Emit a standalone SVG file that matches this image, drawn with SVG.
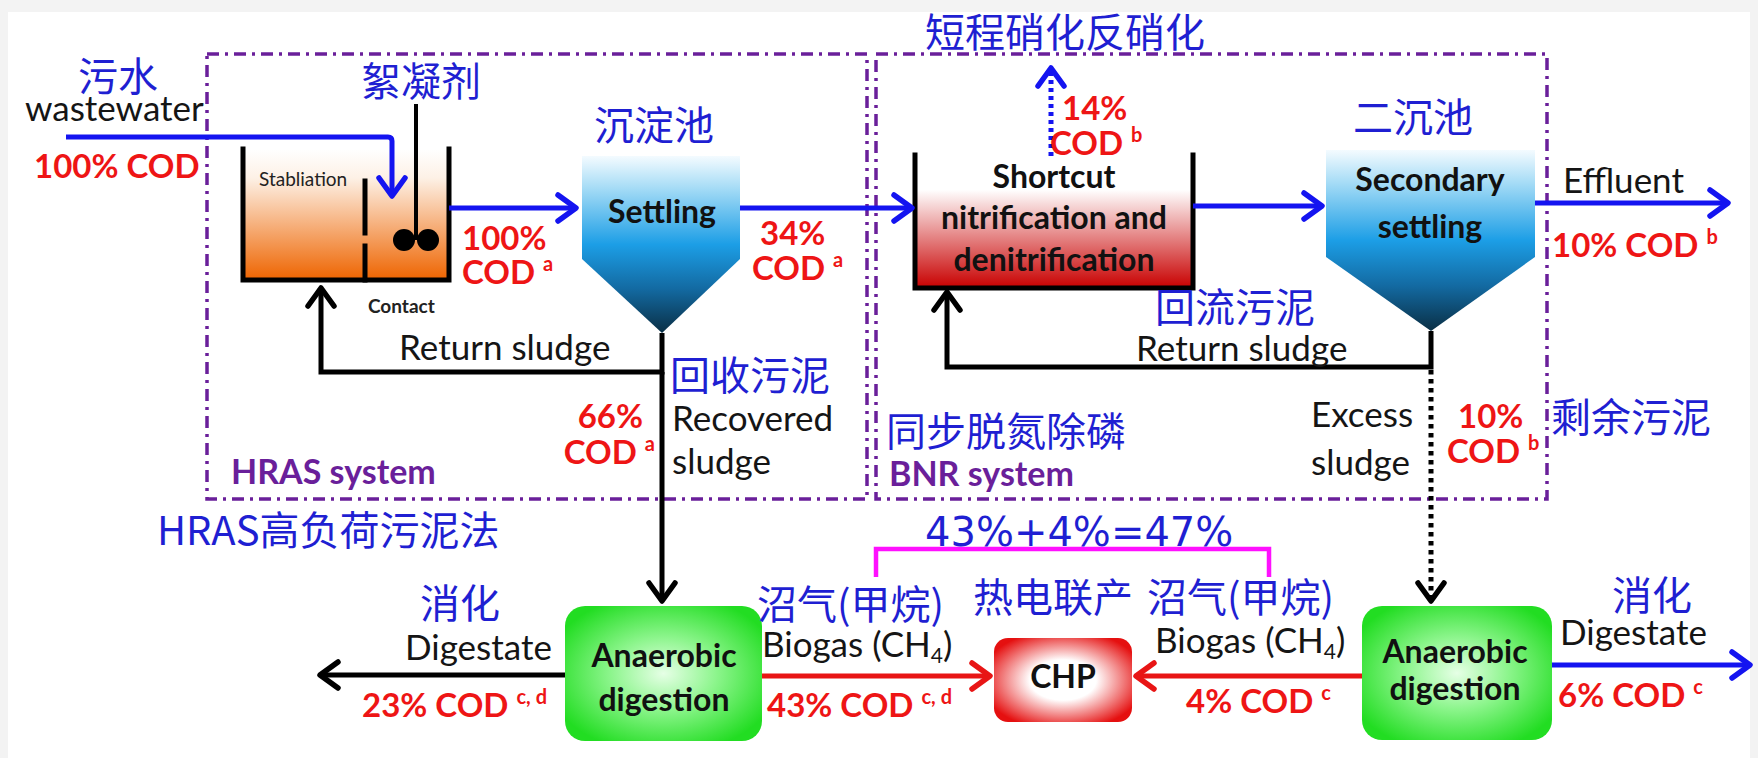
<svg xmlns="http://www.w3.org/2000/svg" width="1758" height="758" viewBox="0 0 1758 758">
  <defs>
    <style>
      .cn { font-family: "Noto Sans CJK SC", sans-serif; font-size: 40px; fill: #1f1fd2; }
      .en { font-family: Lato, "Liberation Sans", sans-serif; font-size: 35px; fill: #151515; }
      .cod { font-family: Lato, "Liberation Sans", sans-serif; font-size: 33px; font-weight: bold; fill: #ee1515; }
      .node { font-family: Lato, "Liberation Sans", sans-serif; font-size: 32px; font-weight: bold; fill: #111; text-anchor: middle; }
      .small { font-family: Lato, "Liberation Sans", sans-serif; font-size: 19px; fill: #222; }
      .sys { font-family: Lato, "Liberation Sans", sans-serif; font-size: 34px; font-weight: bold; fill: #6a1f9a; }
      .sum { font-family: "DejaVu Sans", sans-serif; font-size: 40px; fill: #1f1fd2; }
      .sup { font-size: 20px; }
      .frame { fill: none; stroke: #6a1f9a; stroke-width: 3.5; stroke-dasharray: 12 6 3 6; }
      .wall { fill: none; stroke: #000; stroke-width: 5; stroke-linecap: square; }
      .flow-blue { fill: none; stroke: #1414f0; stroke-width: 5; }
      .flow-black { fill: none; stroke: #000; stroke-width: 5; }
      .flow-red { fill: none; stroke: #e81515; stroke-width: 5; }
    </style>
    <marker id="ah-blue" viewBox="0 0 26 32" refX="22" refY="16" markerWidth="26" markerHeight="32" markerUnits="userSpaceOnUse" orient="auto">
      <path d="M4,3 L22,16 L4,29" fill="none" stroke="#1414f0" stroke-width="5.5" stroke-linecap="round" stroke-linejoin="round"/>
    </marker>
    <marker id="ah-black" viewBox="0 0 26 32" refX="22" refY="16" markerWidth="26" markerHeight="32" markerUnits="userSpaceOnUse" orient="auto">
      <path d="M4,3 L22,16 L4,29" fill="none" stroke="#000" stroke-width="5.5" stroke-linecap="round" stroke-linejoin="round"/>
    </marker>
    <marker id="ah-red" viewBox="0 0 26 32" refX="22" refY="16" markerWidth="26" markerHeight="32" markerUnits="userSpaceOnUse" orient="auto">
      <path d="M4,3 L22,16 L4,29" fill="none" stroke="#e81515" stroke-width="5.5" stroke-linecap="round" stroke-linejoin="round"/>
    </marker>
    <linearGradient id="g-orange" x1="0" y1="0" x2="0" y2="1">
      <stop offset="0" stop-color="#ffffff"/>
      <stop offset="0.22" stop-color="#fdf1e6"/>
      <stop offset="1" stop-color="#ee6400"/>
    </linearGradient>
    <linearGradient id="g-red" x1="0" y1="0" x2="0" y2="1">
      <stop offset="0" stop-color="#ffffff"/>
      <stop offset="0.25" stop-color="#ffffff"/>
      <stop offset="1" stop-color="#c80000"/>
    </linearGradient>
    <linearGradient id="g-blue" x1="0" y1="0" x2="0" y2="1">
      <stop offset="0" stop-color="#f4fbff"/>
      <stop offset="0.18" stop-color="#a6dcf6"/>
      <stop offset="0.5" stop-color="#1c9ee6"/>
      <stop offset="0.75" stop-color="#136aa2"/>
      <stop offset="1" stop-color="#0a2f45"/>
    </linearGradient>
    <radialGradient id="g-green" cx="0.5" cy="0.5" r="0.6">
      <stop offset="0" stop-color="#e6ffe6"/>
      <stop offset="0.45" stop-color="#8cf58c"/>
      <stop offset="1" stop-color="#22dd22"/>
    </radialGradient>
    <radialGradient id="g-chp" cx="0.5" cy="0.5" r="0.6">
      <stop offset="0" stop-color="#ffffff"/>
      <stop offset="0.4" stop-color="#ffffff"/>
      <stop offset="1" stop-color="#e51010"/>
    </radialGradient>
  </defs>

  <!-- page -->
  <rect x="0" y="0" width="1758" height="758" fill="#f3f3f3"/>
  <rect x="8" y="12" width="1742" height="746" fill="#ffffff"/>

  <!-- system frames -->
  <g id="hras-frame">
    <rect class="frame" x="207" y="54" width="660" height="445"/>
  </g>
  <g id="bnr-frame">
    <rect class="frame" x="876" y="54" width="671" height="445"/>
  </g>

  <!-- stabilisation / contact tank -->
  <g id="hras-tank">
    <rect x="243" y="149" width="206" height="131" fill="url(#g-orange)"/>
    <path class="wall" d="M243,149 V280 H449 V149"/>
    <path class="wall" d="M365,181 V233 M365,246 V280" stroke-linecap="butt"/>
    <line x1="416" y1="104" x2="416" y2="240" stroke="#000" stroke-width="4"/>
    <circle cx="404" cy="240" r="11" fill="#000"/>
    <circle cx="428" cy="240" r="11" fill="#000"/>
    <text class="small" x="259" y="186">Stabliation</text>
    <text class="small" x="368" y="313" font-weight="bold">Contact</text>
  </g>

  <!-- primary settling -->
  <g id="settling">
    <polygon points="582,156 740,156 740,259 662,333 582,259" fill="url(#g-blue)"/>
    <text class="node" x="662" y="223">Settling</text>
  </g>

  <!-- shortcut nitrification / denitrification reactor -->
  <g id="shortcut-reactor">
    <rect x="915" y="157" width="278" height="131" fill="url(#g-red)"/>
    <path class="wall" d="M915,155 V288 H1193 V155"/>
    <text class="node" x="1054" y="188" font-size="33">Shortcut</text>
    <text class="node" x="1054" y="229" font-size="33">nitrification and</text>
    <text class="node" x="1054" y="271" font-size="33">denitrification</text>
  </g>

  <!-- secondary settling -->
  <g id="secondary-settling">
    <polygon points="1326,150 1535,150 1535,257 1431,331 1326,257" fill="url(#g-blue)"/>
    <text class="node" x="1430" y="191" font-size="35">Secondary</text>
    <text class="node" x="1430" y="238" font-size="35">settling</text>
  </g>

  <!-- anaerobic digesters and CHP -->
  <g id="digester-hras">
    <rect x="565" y="606" width="197" height="135" rx="20" fill="url(#g-green)"/>
    <text class="node" x="664" y="667" font-size="29">Anaerobic</text>
    <text class="node" x="664" y="711" font-size="29">digestion</text>
  </g>
  <g id="digester-bnr">
    <rect x="1362" y="606" width="190" height="134" rx="20" fill="url(#g-green)"/>
    <text class="node" x="1455" y="663" font-size="26">Anaerobic</text>
    <text class="node" x="1455" y="700" font-size="26">digestion</text>
  </g>
  <g id="chp">
    <rect x="994" y="638" width="138" height="84" rx="14" fill="url(#g-chp)"/>
    <text class="node" x="1063" y="688" font-size="18">CHP</text>
  </g>

  <!-- connectors -->
  <g id="connectors">
    <path class="flow-blue" d="M66,137 H388 Q392,137 392,141 V196" marker-end="url(#ah-blue)"/>
    <line class="flow-blue" x1="449" y1="208" x2="576" y2="208" marker-end="url(#ah-blue)"/>
    <line class="flow-blue" x1="740" y1="208" x2="912" y2="208" marker-end="url(#ah-blue)"/>
    <line class="flow-blue" x1="1193" y1="206" x2="1322" y2="206" marker-end="url(#ah-blue)"/>
    <line class="flow-blue" x1="1535" y1="203" x2="1728" y2="203" marker-end="url(#ah-blue)"/>
    <line class="flow-blue" x1="1051" y1="156" x2="1051" y2="68" stroke-dasharray="4 4" marker-end="url(#ah-blue)"/>
    <!-- HRAS return + recovered sludge -->
    <path class="flow-black" d="M662,333 V372 H321 V288" marker-end="url(#ah-black)"/>
    <line class="flow-black" x1="662" y1="372" x2="662" y2="601" marker-end="url(#ah-black)"/>
    <!-- BNR return + excess sludge -->
    <path class="flow-black" d="M1431,331 V367 H947 V292" marker-end="url(#ah-black)"/>
    <line class="flow-black" x1="1431" y1="370" x2="1431" y2="601" stroke-width="4.5" stroke-dasharray="4.5 4.5" marker-end="url(#ah-black)"/>
    <!-- digestate and biogas -->
    <line class="flow-black" x1="565" y1="675" x2="320" y2="675" marker-end="url(#ah-black)"/>
    <line class="flow-red" x1="762" y1="676" x2="990" y2="676" marker-end="url(#ah-red)"/>
    <line class="flow-red" x1="1362" y1="676" x2="1136" y2="676" marker-end="url(#ah-red)"/>
    <line class="flow-blue" x1="1552" y1="665" x2="1750" y2="665" marker-end="url(#ah-blue)"/>
    <!-- biogas sum bracket -->
    <path d="M876,577 V549 H1269 V577" fill="none" stroke="#ff10ff" stroke-width="4.5"/>
  </g>

  <!-- labels -->
  <g id="labels">
    <text class="cn" x="78" y="91" font-size="44">污水</text>
    <text class="en" x="25" y="121">wastewater</text>
    <text class="cod" x="34" y="178">100% COD</text>
    <text class="cn" x="361" y="96" font-size="38">絮凝剂</text>
    <text class="cod" x="462" y="250">100%</text>
    <text class="cod" x="462" y="284">COD <tspan class="sup" dy="-13">a</tspan></text>
    <text class="cn" x="594" y="140" font-size="42">沉淀池</text>
    <text class="cod" x="760" y="245">34%</text>
    <text class="cod" x="752" y="280">COD <tspan class="sup" dy="-13">a</tspan></text>
    <text class="cn" x="925" y="47" font-size="39">短程硝化反硝化</text>
    <text class="cod" x="1062" y="120">14%</text>
    <text class="cod" x="1050" y="155">COD <tspan class="sup" dy="-13">b</tspan></text>
    <text class="cn" x="1353" y="132" font-size="44">二沉池</text>
    <text class="en" x="1563" y="193">Effluent</text>
    <text class="cod" x="1552" y="257">10% COD <tspan class="sup" dy="-13">b</tspan></text>
    <text class="en" x="399" y="360">Return sludge</text>
    <text class="cn" x="670" y="390" font-size="38">回收污泥</text>
    <text class="cod" x="643" y="428" text-anchor="end">66%</text>
    <text class="cod" x="655" y="464" text-anchor="end">COD <tspan class="sup" dy="-13">a</tspan></text>
    <text class="en" x="672" y="431">Recovered</text>
    <text class="en" x="672" y="474">sludge</text>
    <text class="sys" x="231" y="484">HRAS system</text>
    <text class="cn" x="157" y="545">HRAS高负荷污泥法</text>
    <text class="cn" x="1155" y="322" font-size="42">回流污泥</text>
    <text class="en" x="1136" y="361">Return sludge</text>
    <text class="en" x="1311" y="427">Excess</text>
    <text class="en" x="1311" y="475">sludge</text>
    <text class="cod" x="1458" y="428">10%</text>
    <text class="cod" x="1447" y="463">COD <tspan class="sup" dy="-13">b</tspan></text>
    <text class="cn" x="1551" y="432" font-size="39">剩余污泥</text>
    <text class="cn" x="886" y="446" font-size="39">同步脱氮除磷</text>
    <text class="sys" x="889" y="486">BNR system</text>
    <text class="sum" x="925" y="546">43%+4%=47%</text>
    <text class="cn" x="420" y="618">消化</text>
    <text class="en" x="405" y="660">Digestate</text>
    <text class="cod" x="362" y="717">23% COD <tspan class="sup" dy="-13">c, d</tspan></text>
    <text class="cn" x="757" y="619" font-size="42">沼气(甲烷)</text>
    <text class="en" x="762" y="657" font-size="33">Biogas (CH<tspan font-size="21" dy="6">4</tspan><tspan dy="-6">)</tspan></text>
    <text class="cod" x="767" y="717">43% COD <tspan class="sup" dy="-13">c, d</tspan></text>
    <text class="cn" x="973" y="612" font-size="42">热电联产</text>
    <text class="cn" x="1147" y="612" font-size="42">沼气(甲烷)</text>
    <text class="en" x="1155" y="653" font-size="33">Biogas (CH<tspan font-size="21" dy="6">4</tspan><tspan dy="-6">)</tspan></text>
    <text class="cod" x="1186" y="713">4% COD <tspan class="sup" dy="-13">c</tspan></text>
    <text class="cn" x="1612" y="610">消化</text>
    <text class="en" x="1560" y="645">Digestate</text>
    <text class="cod" x="1558" y="707">6% COD <tspan class="sup" dy="-13">c</tspan></text>
  </g>
</svg>
